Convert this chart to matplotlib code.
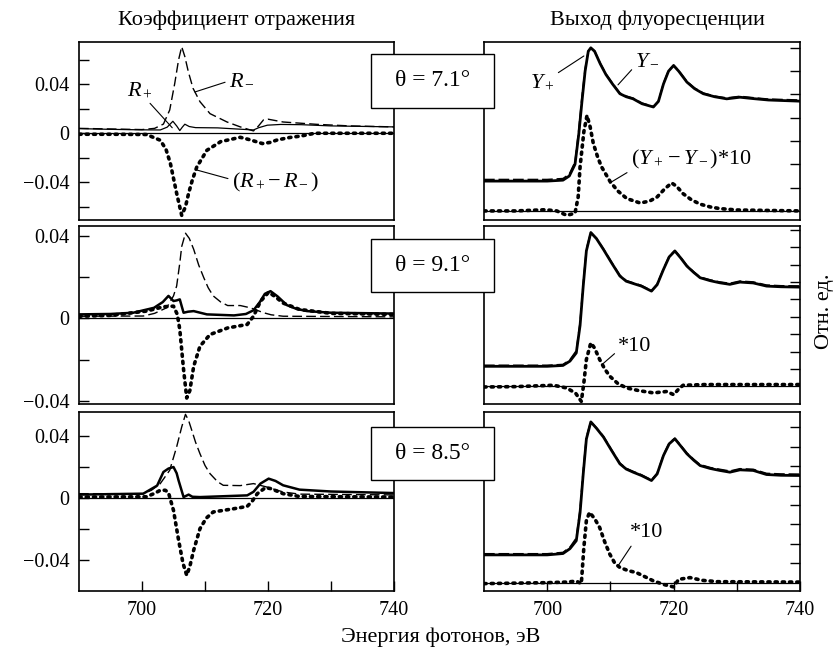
import matplotlib
matplotlib.use("Agg")
import matplotlib.pyplot as plt
from matplotlib.patches import Rectangle
from matplotlib.ticker import FixedLocator, NullFormatter

plt.rcParams['font.family'] = ['Liberation Serif', 'DejaVu Serif']
plt.rcParams['mathtext.fontset'] = 'custom'
plt.rcParams['mathtext.rm'] = 'Liberation Serif'
plt.rcParams['mathtext.it'] = 'Liberation Serif:italic'

# ---- reflection coefficient, theta = 7.1 ----
e_rm1 = [690, 695, 700, 702, 703.4, 704.4, 705.2, 705.8, 706.3, 706.8, 707.35, 708.1, 709.2,
         710.8, 713.5, 715.6, 717.7, 718.5, 719.3, 720, 722.4, 727.7, 733, 740]
rm1 = [0.0040, 0.0035, 0.0030, 0.0040, 0.0075, 0.019, 0.0408, 0.0598, 0.0707, 0.0626, 0.0503,
       0.0367, 0.0258, 0.016, 0.0092, 0.0052, 0.0019, 0.006, 0.011, 0.0115, 0.0092, 0.0073, 0.006, 0.0052]
e_rp1 = [690, 695, 700, 702.9, 704.0, 704.9, 705.5, 706.0, 706.4, 706.8, 707.5, 708.5, 712, 715,
         717.7, 718.5, 719.9, 722, 725.3, 730, 740]
rp1 = [0.0038, 0.0032, 0.0028, 0.0027, 0.005, 0.0098, 0.006, 0.0022, 0.005, 0.0074, 0.0055, 0.0046,
       0.0044, 0.0035, 0.0027, 0.0045, 0.0066, 0.0072, 0.007, 0.006, 0.0052]
e_dr1 = [690, 695, 700.7, 702.9, 703.8, 704.5, 705.5, 706.3, 706.9, 707.4, 708.0, 708.7, 710.3,
         712.5, 715.6, 717.2, 719.1, 720.3, 721.5, 723.4, 725.3, 727.4, 740]
dr1 = [-0.0008, -0.0008, -0.001, -0.0057, -0.013, -0.0245, -0.049, -0.067, -0.06, -0.049, -0.038,
       -0.0275, -0.0139, -0.0068, -0.0033, -0.0054, -0.0084, -0.0075, -0.0054, -0.0035, -0.0022, 0.0, 0.0]

# ---- reflection coefficient, theta = 9.1 ----
e_rm2 = [690, 700.2, 702, 703.9, 705.0, 705.5, 706.0, 706.3, 706.9, 707.5, 708.2, 709.0, 709.8,
         710.5, 711.3, 712.5, 713.6, 715.6, 717.2, 719.3, 720.5, 722.4, 740]
rm2 = [0.0011, 0.0012, 0.0025, 0.0052, 0.011, 0.0158, 0.027, 0.035, 0.0415, 0.039, 0.0337, 0.026,
       0.0199, 0.015, 0.011, 0.008, 0.0063, 0.0063, 0.0052, 0.0028, 0.0018, 0.0011, 0.0008]
e_rp2 = [690, 695, 698.6, 701.9, 703.3, 704.2, 705.0, 705.5, 706.0, 706.3, 706.6, 707.3, 708.2,
         710.3, 714.6, 716.5, 717.7, 718.7, 719.5, 720.4, 721.5, 723, 724.5, 726.2, 730, 740]
rp2 = [0.002, 0.0022, 0.0028, 0.0052, 0.008, 0.011, 0.0085, 0.0088, 0.0093, 0.006, 0.0028, 0.0033,
       0.0036, 0.002, 0.0015, 0.0022, 0.004, 0.008, 0.012, 0.0133, 0.0108, 0.0065, 0.0047, 0.0036,
       0.0028, 0.0024]
e_dr2 = [690, 695, 700.7, 703.4, 705.0, 705.6, 706.0, 706.6, 707.1, 707.6, 708.2, 709.2, 710.8,
         713.6, 716.7, 717.7, 718.8, 720.1, 721.2, 722.4, 725, 730, 740]
dr2 = [0.0011, 0.0015, 0.0036, 0.0057, 0.006, 0.002, -0.0054, -0.0249, -0.0387, -0.035, -0.0233,
       -0.0135, -0.0078, -0.0046, -0.0029, 0.0011, 0.0083, 0.0128, 0.0105, 0.0075, 0.0044, 0.0025, 0.002]

# ---- reflection coefficient, theta = 8.5 ----
e_rm3 = [690, 700.2, 701.5, 702.9, 704.4, 705.5, 706.3, 706.9, 707.4, 707.9, 708.5, 709.2, 710.0,
         710.8, 712.0, 712.9, 715.6, 717.7, 719.8, 722.4, 725, 740]
rm3 = [0.0028, 0.0028, 0.005, 0.0093, 0.0179, 0.033, 0.0458, 0.054, 0.05, 0.0437, 0.036, 0.0286,
       0.021, 0.0157, 0.0105, 0.0082, 0.008, 0.0093, 0.0071, 0.0039, 0.0025, 0.002]
e_rp3 = [690, 700.2, 702.4, 703.4, 704.2, 705.0, 705.5, 705.8, 706.6, 707.4, 708.0, 709.2, 716.7,
         717.7, 718.8, 720.1, 721.2, 722.4, 725, 730, 740]
rp3 = [0.0022, 0.0028, 0.008, 0.0168, 0.019, 0.02, 0.016, 0.0114, 0.0006, 0.0022, 0.0008, 0.0006,
       0.0017, 0.004, 0.0093, 0.0125, 0.011, 0.0082, 0.0054, 0.0042, 0.0032]
e_dr3 = [690, 700.7, 702.0, 702.9, 703.7, 704.2, 705.0, 705.8, 706.5, 707.1, 707.6, 708.2, 709.2,
         710.2, 711.3, 714.6, 716.7, 717.5, 718.3, 719.6, 720.5, 722.4, 725, 740]
dr3 = [0.0006, 0.0008, 0.003, 0.005, 0.005, 0.0035, -0.008, -0.027, -0.042, -0.0499, -0.044, -0.0337,
       -0.0198, -0.013, -0.009, -0.0069, -0.0054, -0.002, 0.0028, 0.0067, 0.006, 0.0028, 0.001, 0.0006]

# ---- fluorescence yield (arb. units) ----
e_y1 = [690, 700, 702.5, 703.5, 704.4, 705.0, 705.5, 706.0, 706.5, 706.9, 707.5, 708.4, 709.3,
        710.3, 711.5, 712.5, 713.6, 715, 716.8, 717.6, 718.4, 719.2, 720, 720.8, 722.1, 723.3,
        724.7, 726.5, 728.4, 730.5, 732.6, 735, 740]
ym1 = [1.28, 1.28, 1.32, 1.5, 2.0, 3.3, 4.7, 6.0, 6.85, 7.0, 6.85, 6.31, 5.85, 5.46, 5.03, 4.9,
       4.81, 4.6, 4.46, 4.7, 5.45, 6.0, 6.24, 6.0, 5.53, 5.25, 5.03, 4.9, 4.81, 4.88, 4.82, 4.76, 4.71]
yp1 = [1.35, 1.35, 1.39, 1.58, 2.1, 3.5, 4.9, 6.1, 6.87, 7.0, 6.87, 6.34, 5.88, 5.49, 5.06, 4.93,
       4.84, 4.63, 4.48, 4.72, 5.48, 6.03, 6.26, 6.03, 5.56, 5.28, 5.06, 4.93, 4.85, 4.92, 4.86, 4.8, 4.76]
e_dy1 = [690, 695, 699.7, 701.5, 703.1, 704.4, 704.9, 705.2, 705.8, 706.3, 706.8, 707.3, 708.0,
         708.6, 710.0, 711.2, 712.6, 714.7, 716.2, 717.4, 718.6, 719.7, 720.5, 721.5, 722.8,
         724.2, 725.8, 727.3, 730, 740]
dy1 = [0.0, 0.0, 0.05, 0.0, -0.19, -0.1, 0.6, 1.89, 3.4, 4.1, 3.6, 2.89, 2.3, 1.89, 1.24, 0.85,
       0.53, 0.34, 0.42, 0.6, 0.95, 1.2, 1.05, 0.74, 0.48, 0.29, 0.17, 0.1, 0.04, 0.0]

e_y2 = [690, 700, 702.5, 703.6, 704.6, 705.2, 705.7, 706.2, 706.9, 707.8, 708.9, 710.2, 711.5,
        712.5, 713.6, 714.9, 716.5, 717.4, 718.4, 719.3, 720.2, 721.1, 722.1, 723.2, 724.2,
        725.8, 727.3, 728.9, 730.5, 732.6, 734.7, 737, 740]
ym2 = [1.15, 1.15, 1.2, 1.45, 1.92, 3.5, 5.77, 7.8, 8.85, 8.5, 7.88, 7.1, 6.35, 6.05, 5.92, 5.77,
       5.48, 5.85, 6.73, 7.45, 7.79, 7.4, 6.92, 6.55, 6.25, 6.08, 5.96, 5.87, 6.0, 5.95, 5.77, 5.73, 5.71]
yp2 = [1.21, 1.21, 1.26, 1.53, 2.05, 3.7, 5.95, 7.9, 8.87, 8.53, 7.92, 7.14, 6.39, 6.09, 5.96, 5.81,
       5.51, 5.89, 6.77, 7.49, 7.82, 7.44, 6.96, 6.59, 6.29, 6.13, 6.01, 5.93, 6.06, 6.01, 5.83, 5.79, 5.78]
e_dy2 = [690, 695, 701, 703.1, 704.5, 705.4, 705.8, 706.2, 706.9, 707.5, 708.3, 709.1, 709.9,
         711.2, 712.6, 714.5, 716.8, 718.9, 720, 720.7, 721.5, 725, 740]
dy2 = [-0.04, -0.02, 0.06, -0.1, -0.4, -0.87, 0.2, 1.54, 2.5, 2.2, 1.54, 1.0, 0.58, 0.15, -0.1,
       -0.25, -0.38, -0.3, -0.48, -0.2, 0.06, 0.1, 0.1]

e_y3 = e_y2
ym3 = [1.43, 1.43, 1.5, 1.75, 2.16, 3.6, 5.6, 7.4, 8.28, 7.95, 7.5, 6.8, 6.12, 5.85, 5.69, 5.52,
       5.26, 5.6, 6.55, 7.15, 7.41, 7.05, 6.64, 6.3, 6.03, 5.88, 5.78, 5.69, 5.81, 5.78, 5.57, 5.53, 5.52]
yp3 = [1.49, 1.49, 1.56, 1.83, 2.3, 3.8, 5.8, 7.5, 8.3, 7.98, 7.54, 6.84, 6.16, 5.89, 5.73, 5.56,
       5.29, 5.64, 6.59, 7.19, 7.44, 7.09, 6.68, 6.35, 6.08, 5.93, 5.84, 5.75, 5.87, 5.84, 5.63, 5.6, 5.59]
e_dy3 = [690, 700, 703.1, 704.6, 705.4, 705.8, 706.2, 706.7, 707.5, 708.3, 709.1, 709.9, 710.7,
         711.5, 712.8, 714.1, 715.5, 716.8, 718.5, 720, 720.8, 722.6, 724.5, 727, 740]
dy3 = [-0.05, 0.0, 0.03, 0.08, -0.05, 1.81, 3.2, 3.62, 3.3, 2.84, 2.1, 1.47, 1.0, 0.78, 0.62,
       0.52, 0.3, 0.09, -0.1, -0.22, 0.17, 0.26, 0.12, 0.05, 0.03]

angles = ["7.1", "9.1", "8.5"]

W, H = 833, 657
fig = plt.figure(figsize=(W / 100, H / 100), dpi=100)


def frac_box(x0, y0, x1, y1):
    # pixel box (top-left origin) -> figure fraction rect
    return [x0 / W, 1 - y1 / H, (x1 - x0) / W, (y1 - y0) / H]


rows_px = [(42, 220), (226, 404), (412, 591)]
left_axes, right_axes = [], []
for (t, b) in rows_px:
    left_axes.append(fig.add_axes(frac_box(79, t, 394, b)))
    right_axes.append(fig.add_axes(frac_box(484, t, 800, b)))

left_ylims = [(-0.0708, 0.0745), (-0.0416, 0.045), (-0.06, 0.0555)]
left_minor = [[0.06, 0.02, -0.02, -0.06], [0.02, -0.02], [0.02, -0.02]]
right_ylims = [(-0.39, 7.25), (-1.02, 9.23), (-0.43, 8.79)]
right_ticks = [range(1, 8), range(1, 10), range(1, 9)]

left_data = [(e_rm1, rm1, e_rp1, rp1, e_dr1, dr1),
             (e_rm2, rm2, e_rp2, rp2, e_dr2, dr2),
             (e_rm3, rm3, e_rp3, rp3, e_dr3, dr3)]
right_data = [(e_y1, ym1, yp1, e_dy1, dy1),
              (e_y2, ym2, yp2, e_dy2, dy2),
              (e_y3, ym3, yp3, e_dy3, dy3)]

tick_fs = 14.5
dot_style = (0, (0.6, 1.4))

for i, ax in enumerate(left_axes):
    e_m, r_m, e_p, r_p, e_d, d_r = left_data[i]
    ax.axhline(0, color='black', lw=0.9, zorder=1)
    ax.plot(e_m, r_m, color='black', lw=1.0, ls=(0, (7, 3)), zorder=2)
    ax.plot(e_p, r_p, color='black', lw=0.9 if i == 0 else 1.8, zorder=3)
    ax.plot(e_d, d_r, color='black', lw=2.6, ls=dot_style, dash_capstyle='round', zorder=4)
    ax.set_xlim(690, 740)
    ax.set_ylim(*left_ylims[i])
    ax.set_yticks([-0.04, 0, 0.04])
    ax.set_yticklabels(['\u22120.04', '0', '0.04'])
    ax.yaxis.set_minor_locator(FixedLocator(left_minor[i]))

for i, ax in enumerate(right_axes):
    e_y, y_m, y_p, e_d, d_y = right_data[i]
    ax.axhline(0, color='black', lw=0.9, zorder=1)
    ax.plot(e_y, y_m, color='black', lw=2.0, zorder=2)
    ax.plot(e_y, y_p, color='black', lw=1.1, ls=(0, (7, 2.5)), zorder=3)
    ax.plot(e_d, d_y, color='black', lw=2.6, ls=dot_style, dash_capstyle='round', zorder=4)
    ax.set_xlim(690, 740)
    ax.set_ylim(*right_ylims[i])
    ax.yaxis.tick_right()
    ax.set_yticks(list(right_ticks[i]))
    ax.yaxis.set_major_formatter(NullFormatter())

for k, ax in enumerate(left_axes + right_axes):
    for s in ax.spines.values():
        s.set_linewidth(1.2)
    ax.tick_params(which='both', direction='in', length=7, width=1.0,
                   labelsize=tick_fs, pad=7)
    bottom = ax in (left_axes[2], right_axes[2])
    if bottom:
        ax.set_xticks([700, 720, 740])
        ax.xaxis.set_minor_locator(FixedLocator([710, 730]))
        ax.tick_params(axis='x', which='both', top=False, bottom=True)
    else:
        ax.set_xticks([])
        ax.tick_params(axis='x', which='both', top=False, bottom=False)

# annotations with leader lines
ann_fs = 16
lead = dict(arrowstyle='-', lw=0.8, color='black', shrinkA=1, shrinkB=0)
a0 = left_axes[0]
a0.annotate('$R_+$', xy=(704.8, 0.0045), xytext=(699.7, 0.0353), ha='center', va='center',
            fontsize=ann_fs, arrowprops=dict(lead, relpos=(0.75, 0)))
a0.annotate('$R_-$', xy=(708.4, 0.0337), xytext=(715.9, 0.0435), ha='center', va='center',
            fontsize=ann_fs, arrowprops=dict(lead, relpos=(0, 0.45)))
a0.annotate(r'$(R_+\!-R_-)$', xy=(708.7, -0.030), xytext=(721.2, -0.0398), ha='center', va='center',
            fontsize=ann_fs, arrowprops=dict(lead, relpos=(0, 0.6)))

b0 = right_axes[0]
b0.annotate('$Y_+$', xy=(705.8, 6.65), xytext=(699.2, 5.54), ha='center', va='center',
            fontsize=ann_fs, arrowprops=dict(lead, relpos=(1, 0.85)))
b0.annotate('$Y_-$', xy=(711.2, 5.41), xytext=(715.9, 6.48), ha='center', va='center',
            fontsize=ann_fs, arrowprops=dict(lead, relpos=(0, 0.2)))
b0.annotate(r'$(Y_+-Y_-)$*10', xy=(709.9, 1.2), xytext=(722.8, 2.19), ha='center', va='center',
            fontsize=ann_fs, arrowprops=dict(lead, relpos=(0, 0.05)))
right_axes[1].annotate('*10', xy=(708.7, 1.26), xytext=(713.9, 2.29), ha='center', va='center',
                       fontsize=ann_fs, arrowprops=dict(lead, relpos=(0, 0.3)))
right_axes[2].annotate('*10', xy=(711.2, 0.86), xytext=(715.8, 2.57), ha='center', va='center',
                       fontsize=ann_fs, arrowprops=dict(lead, relpos=(0.1, 0)))

# angle boxes between the columns
box_px = [(54, 108), (239, 292), (427, 480)]
for (t, b), ang in zip(box_px, angles):
    x, y, w, h = frac_box(371, t, 494, b)
    fig.patches.append(Rectangle((x, y), w, h, transform=fig.transFigure, facecolor='white',
                                 edgecolor='black', lw=1.0, zorder=10))
    fig.text(x + w / 2, y + h / 2, '\u03b8 = ' + ang + '\u00b0', ha='center', va='center',
             fontsize=17, zorder=11)

fig.text(237 / W, 1 - 20 / H, 'Коэффициент отражения', ha='center', va='center', fontsize=16)
fig.text(657 / W, 1 - 20 / H, 'Выход флуоресценции', ha='center', va='center', fontsize=16)
fig.text(441 / W, 1 - 637 / H, 'Энергия фотонов, эВ', ha='center', va='center', fontsize=16)
fig.text(825 / W, 1 - 311 / H, 'Отн. ед.', ha='center', va='center', rotation=90, fontsize=16)

fig.savefig('out.png', dpi=100)
